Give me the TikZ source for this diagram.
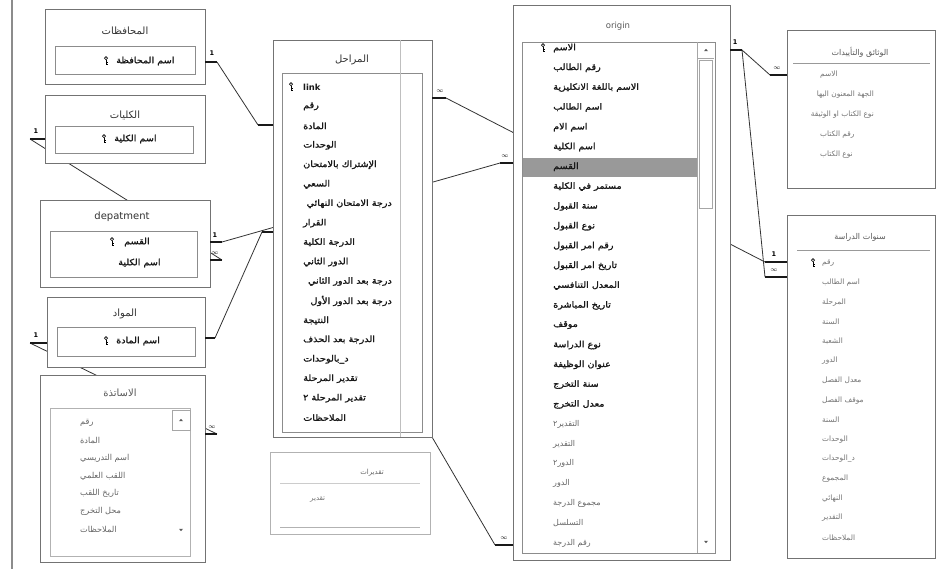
\documentclass[tikz,border=0pt]{standalone}
\usepackage{fontspec}
\setmainfont{DejaVu Sans}
\newfontfamily\arabicfont[Script=Arabic]{DejaVu Sans}
\newfontfamily\arabicbold[Script=Arabic,FakeBold=1.6,FakeStretch=1.12]{DejaVu Sans}
\TeXXeTstate=1
\newcommand{\artx}[1]{{\arabicfont\beginR #1\endR}}
\newcommand{\artb}[1]{{\arabicbold\beginR #1\endR}}
\begin{document}
\begin{tikzpicture}[x=1pt,y=-1pt,
  tbl/.style={draw=black!55, fill=white, line width=0.7pt},
  inbox/.style={draw=black!45, fill=white, line width=0.6pt},
  faint/.style={draw=black!30, fill=white, line width=0.5pt},
  ttl/.style={inner sep=0pt, font=\fontsize{10}{12}\selectfont, text=black!80},
  fld/.style={anchor=west, inner sep=0pt, font=\fontsize{8.6}{10}\selectfont, text=black!90},
  fldg/.style={anchor=west, inner sep=0pt, font=\fontsize{7.4}{9}\selectfont, text=black!55},
  rel/.style={draw=black!80, line width=0.8pt},
  stub/.style={draw=black!90, line width=1.6pt},
  card/.style={inner sep=0pt, font=\fontsize{6.5}{7}\selectfont\bfseries, text=black},
  keyicon/.pic={\draw[line width=0.6pt] (0,-2.8) circle (1.6pt);
                \draw[line width=0.9pt] (0,-1.2)--(0,3.6) (0,1.8)--(1.5,1.8) (0,3.3)--(1.5,3.3);},
  uparrow/.pic={\fill[black!65] (-2,1.2)--(2,1.2)--(0,-1.2)--cycle;},
  downarrow/.pic={\fill[black!65] (-2,-1.2)--(2,-1.2)--(0,1.2)--cycle;}]
\useasboundingbox[fill=white] (0,0) rectangle (939,569);

% page edge on the left
\draw[black!45, line width=1.5pt] (12,0) -- (12,569);

% ---------- connector end points ----------
\coordinate (govR)  at (205,62);   \coordinate (govS)  at (217,62);
\coordinate (colL)  at (45,139);   \coordinate (colS)  at (30,139);
\coordinate (depR1) at (210,242);  \coordinate (depS1) at (222,242);
\coordinate (depR2) at (210,260);  \coordinate (depS2) at (222,260);
\coordinate (matL)  at (47,343);   \coordinate (matS)  at (30,343);
\coordinate (matR)  at (205,338);  \coordinate (matS2) at (215,338);
\coordinate (teaR)  at (205,434);  \coordinate (teaS)  at (217,434);
\coordinate (stgL1) at (273,125);  \coordinate (stgS1) at (258,125);
\coordinate (stgL2) at (273,232);  \coordinate (stgS2) at (262,232);
\coordinate (stgR)  at (432,98);   \coordinate (stgS)  at (446,98);
\coordinate (stgC)  at (432,437);
\coordinate (orgL1) at (513,163);  \coordinate (orgS1) at (500,163);
\coordinate (orgL2) at (513,545);  \coordinate (orgS2) at (495,545);
\coordinate (orgR)  at (730,50);   \coordinate (orgS)  at (742,50);
\coordinate (docL)  at (787,75);   \coordinate (docS)  at (770,75);
\coordinate (yrsL1) at (787,262);  \coordinate (yrsS1) at (765,262);
\coordinate (yrsL2) at (787,277);  \coordinate (yrsS2) at (765,277);

% ---------- relationship lines (behind the tables) ----------
\draw[rel] (govS) -- (stgS1);
\draw[rel] (colS) -- (depS2);
\draw[rel] (depS1) -- (orgS1);
\draw[rel] (matS) -- (teaS);
\draw[rel] (matS2) -- (stgS2);
\draw[rel] (stgS) -- (yrsS1);
\draw[rel] (stgC) -- (orgS2);
\draw[rel] (orgS) -- (docS);
\draw[rel] (orgS) -- (yrsS2);

% ---------- المحافظات ----------
\draw[tbl] (45,9) rectangle (205,84);
\node[ttl] (govT) at (125,31) {\artx{المحافظات}};
\draw[inbox] (55,46) rectangle (195,74);
\pic at (106,61) {keyicon};
\node[fld] (gov0) at (116,61) {\artb{اسم المحافظة}};

% ---------- الكليات ----------
\draw[tbl] (45,95) rectangle (205,163);
\node[ttl] (colT) at (125,115) {\artx{الكليات}};
\draw[inbox] (55,126) rectangle (193,153);
\pic at (104,139) {keyicon};
\node[fld] (col0) at (114,139) {\artb{اسم الكلية}};

% ---------- depatment ----------
\draw[tbl] (40,200) rectangle (210,287);
\node[ttl] (depT) at (122,217) {depatment};
\draw[inbox] (50,231) rectangle (197,277);
\pic at (112,242) {keyicon};
\node[fld] (dep0) at (124,242) {\artb{القسم}};
\node[fld] (dep1) at (118,263) {\artb{اسم الكلية}};

% ---------- المواد ----------
\draw[tbl] (47,297) rectangle (205,367);
\node[ttl] (matT) at (125,314) {\artx{المواد}};
\draw[inbox] (57,327) rectangle (195,356);
\pic at (106,341) {keyicon};
\node[fld] (mat0) at (116,341) {\artb{اسم المادة}};

% ---------- الاساتذة ----------
\draw[tbl] (40,375) rectangle (205,562);
\node[ttl, text=black!65] (teaT) at (120,393) {\artx{الاساتذة}};
\draw[faint] (50,408) rectangle (190,556);
\draw[black!35, line width=0.5pt] (172,410) rectangle (190,430);
\pic at (181,420) {uparrow};
\pic at (181,530) {downarrow};
\begin{scope}
\clip (51,409) rectangle (171,545);
\foreach \t [count=\i from 0] in {رقم,المادة,اسم التدريسي,اللقب العلمي,تاريخ اللقب,محل التخرج,الملاحظات}
  \node[fldg, font=\fontsize{8.2}{9}\selectfont, text=black!60] (tea\i) at (80,{423+17.7*\i}) {\artx{\t}};
\end{scope}

% ---------- المراحل ----------
\draw[tbl] (273,40) rectangle (432,437);
\node[ttl] (stgT) at (352,60) {\artx{المراحل}};
\draw[inbox] (282,73) rectangle (422,432);
\draw[black!25, line width=0.5pt] (400,40) -- (400,437);
\pic at (291,87) {keyicon};
\node[fld, font=\fontsize{8.4}{10}\selectfont\bfseries] (stg0) at (303,87) {link};
\begin{scope}
\clip (283,74) rectangle (421,431);
\foreach \t [count=\i from 1] in {رقم,المادة,الوحدات,الإشتراك بالامتحان,السعي}
  \node[fld] (stg\i) at (303,{87+19.45*\i}) {\artb{\t}};
\node[fld, anchor=east] (stg6) at (392,{87+19.45*6}) {\artb{درجة الامتحان النهائي}};
\foreach \t [count=\i from 7] in {القرار,الدرجة الكلية,الدور الثاني}
  \node[fld] (stg\i) at (303,{87+19.45*\i}) {\artb{\t}};
\node[fld, anchor=east] (stg10) at (392,{87+19.45*10}) {\artb{درجة بعد الدور الثاني}};
\node[fld, anchor=east] (stg11) at (392,{87+19.45*11}) {\artb{درجة بعد الدور الأول}};
\foreach \t [count=\i from 12] in {النتيجة,الدرجة بعد الحذف,د\_بالوحدات,تقدير المرحلة,تقدير المرحلة ٢,الملاحظات}
  \node[fld] (stg\i) at (303,{87+19.45*\i}) {\artb{\t}};
\end{scope}

% ---------- تقديرات ----------
\draw[faint] (270,452) rectangle (430,534);
\draw[black!20, line width=0.4pt] (280,483) -- (420,483);
\draw[black!30, line width=0.4pt] (280,527) -- (420,527);
\node[ttl, text=black!60, font=\fontsize{7}{8}\selectfont] (grdT) at (372,473) {\artx{تقديرات}};
\node[fldg, font=\fontsize{7}{8}\selectfont] (grd0) at (310,499) {\artx{تقدير}};

% ---------- origin ----------
\draw[tbl] (513,5) rectangle (730,560);
\node[ttl, text=black!65, font=\fontsize{8.5}{10}\selectfont] (orgT) at (618,26) {origin};
\draw[inbox] (522,42) rectangle (715,553);
\fill[black!40] (523,158) rectangle (697,177);
\draw[black!35, line width=0.5pt] (697,42) -- (697,553);
\draw[black!35, line width=0.5pt] (697,58) -- (714,58);
\draw[black!35, line width=0.5pt] (699,60) rectangle (712,208);
\pic at (706,50) {uparrow};
\pic at (706,542) {downarrow};
\pic at (543,48) {keyicon};
\foreach \t [count=\i from 0] in {الاسم,رقم الطالب,الاسم باللغة الانكليزية,اسم الطالب,اسم الام,اسم الكلية,القسم,مستمر في الكلية,سنة القبول,نوع القبول,رقم امر القبول,تاريخ امر القبول,المعدل التنافسي,تاريخ المباشرة,موقف,نوع الدراسة,عنوان الوظيفة,سنة التخرج,معدل التخرج}
  \node[fld] (org\i) at (553,{48+19.8*\i}) {\artb{\t}};
\foreach \t [count=\i from 19] in {التقدير٢,التقدير,الدور٢,الدور,مجموع الدرجة,التسلسل,رقم الدرجة}
  \node[fldg, font=\fontsize{8}{9}\selectfont, text=black!60] (org\i) at (553,{48+19.8*\i}) {\artx{\t}};

% ---------- الوثائق والتأييدات ----------
\draw[tbl] (787,30) rectangle (935,188);
\node[ttl, text=black!65, font=\fontsize{8}{10}\selectfont] (docT) at (860,52) {\artx{الوثائق والتأييدات}};
\draw[black!40, line width=0.5pt] (793,63) -- (930,63);
\begin{scope}
\clip (788,64) rectangle (934,187);
\node[fldg] (doc0) at (820,75) {\artx{الاسم}};
\node[fldg, anchor=east] (doc1) at (874,95) {\artx{الجهة المعنون اليها}};
\node[fldg, anchor=east] (doc2) at (874,115) {\artx{نوع الكتاب او الوثيقة}};
\node[fldg] (doc3) at (820,135) {\artx{رقم الكتاب}};
\node[fldg] (doc4) at (820,155) {\artx{نوع الكتاب}};
\end{scope}

% ---------- سنوات الدراسة ----------
\draw[tbl] (787,215) rectangle (935,558);
\node[ttl, text=black!65, font=\fontsize{8}{10}\selectfont] (yrsT) at (860,237) {\artx{سنوات الدراسة}};
\draw[black!40, line width=0.5pt] (797,250) -- (930,250);
\pic at (813,263) {keyicon};
\foreach \t [count=\i from 0] in {رقم,اسم الطالب,المرحلة,السنة,الشعبة,الدور,معدل الفصل,موقف الفصل,السنة,الوحدات,د\_الوحدات,المجموع,النهائي,التقدير,الملاحظات}
  \node[fldg] (yrs\i) at (822,{263+19.6*\i}) {\artx{\t}};

% ---------- end stubs and cardinality marks ----------
\draw[stub] (govR) -- (govS);   \node[card] (c1) at (212,53) {1};
\draw[stub] (colL) -- (colS);   \node[card] (c2) at (36,131) {1};
\draw[stub] (depR1) -- (depS1); \node[card] (c3) at (215,235) {1};
\draw[stub] (depR2) -- (depS2); \node[card] (c4) at (215,253) {$\infty$};
\draw[stub] (matL) -- (matS);   \node[card] (c5) at (36,335) {1};
\draw[stub] (matR) -- (matS2);
\draw[stub] (teaR) -- (teaS);   \node[card] (c6) at (212,427) {$\infty$};
\draw[stub] (stgL1) -- (stgS1);
\draw[stub] (stgL2) -- (stgS2);
\draw[stub] (stgR) -- (stgS);   \node[card] (c7) at (440,91) {$\infty$};
\draw[stub] (orgL1) -- (orgS1); \node[card] (c8) at (505,156) {$\infty$};
\draw[stub] (orgL2) -- (orgS2); \node[card] (c9) at (504,538) {$\infty$};
\draw[stub] (orgR) -- (orgS);   \node[card] (c10) at (735,42) {1};
\draw[stub] (docL) -- (docS);   \node[card] (c11) at (777,68) {$\infty$};
\draw[stub] (yrsL1) -- (yrsS1); \node[card] (c12) at (774,254) {1};
\draw[stub] (yrsL2) -- (yrsS2); \node[card] (c13) at (774,270) {$\infty$};
\end{tikzpicture}
\end{document}
